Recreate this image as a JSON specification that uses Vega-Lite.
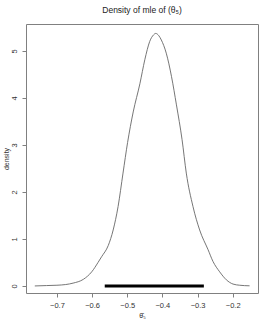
{
  "$schema": "https://vega.github.io/schema/vega-lite/v6.json",
  "autosize": "none",
  "width": 232,
  "height": 269,
  "padding": {"left": 26, "top": 24, "right": 15, "bottom": 34},
  "background": "white",
  "config": {
    "font": "Liberation Sans",
    "view": {"stroke": "#808080", "strokeWidth": 1},
    "axis": {
      "domain": false, "grid": false, "tickColor": "#808080", "tickSize": 4,
      "labelFontSize": 7.5, "labelColor": "#333", "titleFontSize": 7,
      "titleColor": "#333", "titleFontWeight": "normal"
    }
  },
  "title": {"text": "Density of mle of (θ₅)", "fontSize": 8.5, "fontWeight": "normal", "color": "#222", "offset": 10, "anchor": "middle"},
  "datasets": {
    "curve": [
      {"x": -0.763, "d": 0.0}, {"x": -0.73, "d": 0.008}, {"x": -0.7, "d": 0.015},
      {"x": -0.675, "d": 0.03}, {"x": -0.654, "d": 0.06}, {"x": -0.625, "d": 0.14},
      {"x": -0.601, "d": 0.3}, {"x": -0.583, "d": 0.5}, {"x": -0.573, "d": 0.62},
      {"x": -0.554, "d": 0.86}, {"x": -0.54, "d": 1.19}, {"x": -0.526, "d": 1.69},
      {"x": -0.512, "d": 2.4}, {"x": -0.499, "d": 3.05}, {"x": -0.483, "d": 3.7},
      {"x": -0.464, "d": 4.3}, {"x": -0.45, "d": 4.81}, {"x": -0.436, "d": 5.2},
      {"x": -0.425, "d": 5.34}, {"x": -0.419, "d": 5.37}, {"x": -0.41, "d": 5.32},
      {"x": -0.403, "d": 5.23}, {"x": -0.389, "d": 4.95}, {"x": -0.374, "d": 4.45},
      {"x": -0.36, "d": 3.85}, {"x": -0.344, "d": 3.11}, {"x": -0.332, "d": 2.4},
      {"x": -0.313, "d": 1.69}, {"x": -0.294, "d": 1.19}, {"x": -0.27, "d": 0.77},
      {"x": -0.256, "d": 0.52}, {"x": -0.237, "d": 0.3}, {"x": -0.218, "d": 0.13},
      {"x": -0.199, "d": 0.04}, {"x": -0.18, "d": 0.015}, {"x": -0.152, "d": 0.003}
    ],
    "seg": [{"lo": -0.564, "hi": -0.282, "y": 0}]
  },
  "layer": [
    {
      "mark": {"type": "rule", "color": "#e6e6e6", "strokeWidth": 1},
      "encoding": {"y": {"datum": 0, "type": "quantitative", "scale": {"domain": [-0.15, 5.57], "nice": false, "zero": false}}}
    },
    {
      "data": {"name": "curve"},
      "mark": {"type": "line", "color": "#666", "strokeWidth": 0.9, "interpolate": "monotone"},
      "encoding": {
        "x": {"field": "x", "type": "quantitative", "scale": {"domain": [-0.788, -0.128], "nice": false, "zero": false},
          "axis": {"values": [-0.7, -0.6, -0.5, -0.4, -0.3, -0.2], "format": ".1f", "title": "θ̂₅", "labelPadding": 4, "titlePadding": 3}},
        "y": {"field": "d", "type": "quantitative", "scale": {"domain": [-0.15, 5.57], "nice": false, "zero": false},
          "axis": {"values": [0, 1, 2, 3, 4, 5], "title": "density", "labelAngle": -90, "labelPadding": 4, "titlePadding": 1}}
      }
    },
    {
      "data": {"name": "seg"},
      "mark": {"type": "rule", "color": "black", "strokeWidth": 3},
      "encoding": {
        "x": {"field": "lo", "type": "quantitative"},
        "x2": {"field": "hi"},
        "y": {"field": "y", "type": "quantitative"}
      }
    }
  ]
}
